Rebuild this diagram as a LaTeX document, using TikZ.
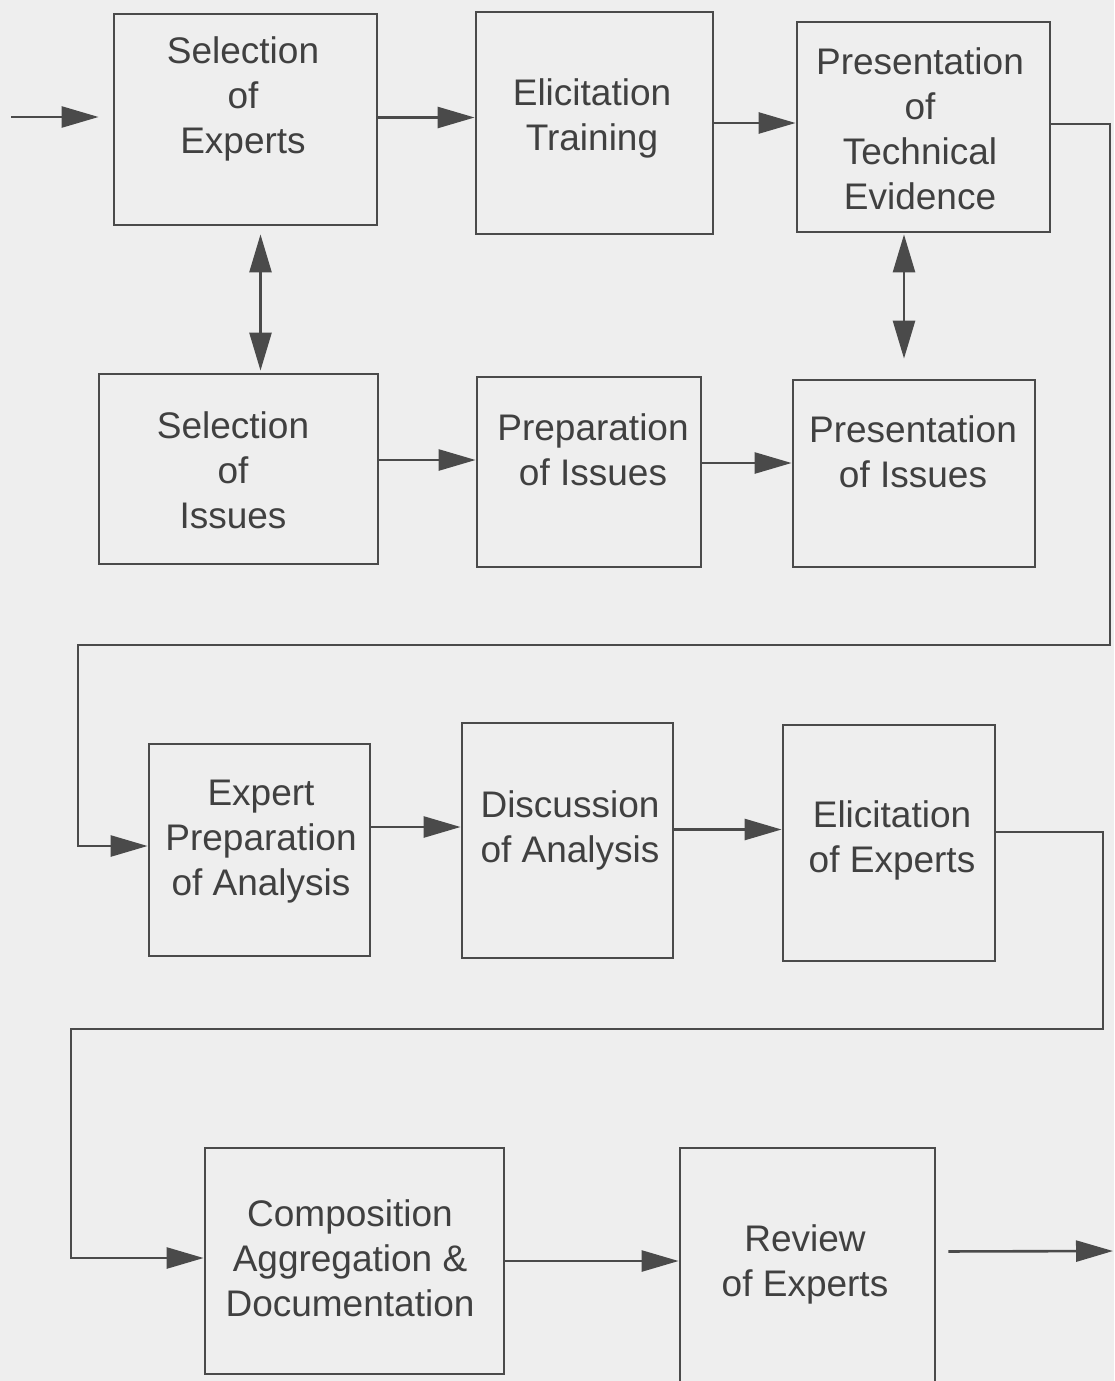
\documentclass[tikz,border=0pt]{standalone}
\usepackage{fontspec}
\setmainfont{Liberation Sans}
\usetikzlibrary{arrows.meta}
\definecolor{bg}{HTML}{EEEEEE}
\definecolor{ink}{HTML}{4A4A4A}
\definecolor{txt}{HTML}{404040}
\begin{document}
\begin{tikzpicture}[x=1pt,y=-1pt,
  boxnode/.style={draw=ink, line width=2.8pt, inner sep=0pt},
  lbl/.style={align=center, text=txt, inner sep=0pt, font=\fontsize{37}{45}\selectfont},
  arr/.style={draw=ink, line width=2.6pt, -{Triangle[length=37pt,width=21pt]}},
  dbl/.style={draw=ink, line width=2.6pt, {Triangle[length=38pt,width=22pt]}-{Triangle[length=38pt,width=22pt]}},
  wire/.style={draw=ink, line width=2.6pt}]
\fill[bg] (0,0) rectangle (1114,1381);
\useasboundingbox (0,0) rectangle (1114,1381);

% boxes
\node[boxnode, minimum width=263pt, minimum height=211pt] (b1) at (245.5,119.5) {};
\node[boxnode, minimum width=237pt, minimum height=222pt] (b2) at (594.5,123) {};
\node[boxnode, minimum width=253pt, minimum height=210pt] (b3) at (923.5,127) {};
\node[boxnode, minimum width=279pt, minimum height=190pt] (b4) at (238.5,469) {};
\node[boxnode, minimum width=224pt, minimum height=190pt] (b5) at (589,472) {};
\node[boxnode, minimum width=242pt, minimum height=187pt] (b6) at (914,473.5) {};
\node[boxnode, minimum width=221pt, minimum height=212pt] (b7) at (259.5,850) {};
\node[boxnode, minimum width=211pt, minimum height=235pt] (b8) at (567.5,840.5) {};
\node[boxnode, minimum width=212pt, minimum height=236pt] (b9) at (889,843) {};
\node[boxnode, minimum width=299pt, minimum height=226pt] (b10) at (354.5,1261) {};
\node[boxnode, minimum width=255pt, minimum height=247pt] (b11) at (807.5,1271.5) {};

% texts
\node[lbl] (t1) at (243,99) {Selection\\of\\Experts};
\node[lbl] (t2) at (592,118) {Elicitation\\Training};
\node[lbl] (t3) at (920,129) {Presentation\\of\\Technical\\Evidence};
\node[lbl] (t4) at (233,470) {Selection\\of\\Issues};
\node[lbl] (t5) at (593,450) {Preparation\\of Issues};
\node[lbl] (t6) at (913,452) {Presentation\\of Issues};
\node[lbl] (t7) at (261,842) {Expert\\Preparation\\of Analysis};
\node[lbl] (t8) at (570,830) {Discussion\\of Analysis};
\node[lbl] (t9) at (892,840) {Elicitation\\of Experts};
\node[lbl] (t10) at (350,1258) {Composition\\Aggregation \&\\Documentation};
\node[lbl] (t11) at (805,1264) {Review\\of Experts};

% free ends and corners
\coordinate (in) at (11,117);
\coordinate (out) at (1113,1251);
\coordinate (c1) at (1110,645);
\coordinate (c2) at (78,645);
\coordinate (c3) at (1103,1029);
\coordinate (c4) at (71,1029);

% connectors
\draw[arr, shorten >=14pt] (in) -- (in -| b1.west);
\draw[arr] ([yshift=2pt]b1.east) -- ([yshift=2pt]b1.east -| b2.west);
\draw[arr] (b2.east) -- (b2.east -| b3.west);
\draw[arr] ([yshift=9pt]b4.east) -- ([yshift=9pt]b4.east -| b5.west);
\draw[arr] ([yshift=9pt]b5.east) -- ([yshift=9pt]b5.east -| b6.west);
\draw[arr] ([yshift=23pt]b7.east) -- ([yshift=23pt]b7.east -| b8.west);
\draw[arr] ([yshift=11pt]b8.east) -- ([yshift=11pt]b8.east -| b9.west);
\draw[arr] (b10.east) -- (b10.east -| b11.west);
\draw[arr, shorten <=12pt] ([yshift=20pt]b11.east) -- (out);

\draw[dbl, shorten <=8pt, shorten >=2pt] ([xshift=15pt]b1.south) -- ([xshift=15pt]b1.south |- b4.north);
\draw[dbl, shorten <=1pt, shorten >=20pt] ([xshift=-19.5pt]b3.south) -- ([xshift=-19.5pt]b3.south |- b6.north);

\draw[arr] ([yshift=3pt]b3.east) -| (c1) -- (c2) |- ([yshift=4pt]b7.west);
\draw[arr] ([yshift=11pt]b9.east) -| (c3) -- (c4) |- ([yshift=3pt]b10.west);
\end{tikzpicture}
\end{document}
